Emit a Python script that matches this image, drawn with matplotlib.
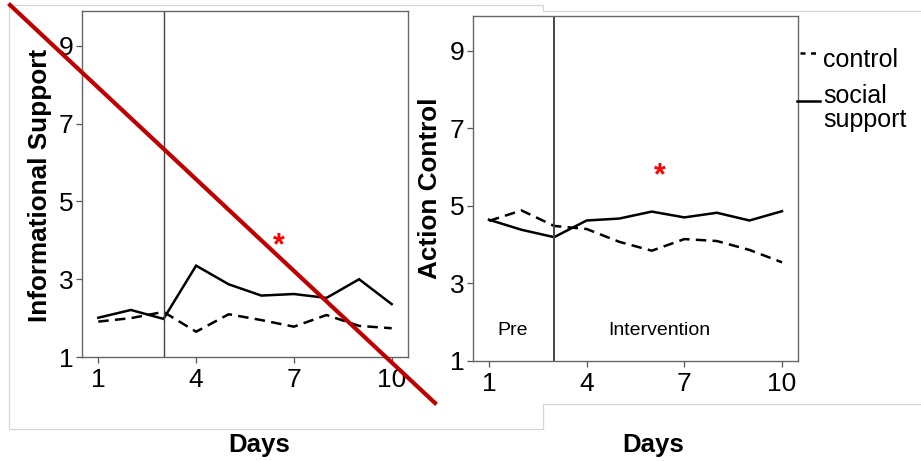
import matplotlib.pyplot as plt
from matplotlib.lines import Line2D

plt.rcParams['font.family'] = ['Liberation Sans', 'DejaVu Sans']

days = [1, 2, 3, 4, 5, 6, 7, 8, 9, 10]
info_social = [2.01, 2.21, 1.98, 3.35, 2.87, 2.58, 2.62, 2.52, 3.00, 2.36]
info_control = [1.91, 2.00, 2.16, 1.65, 2.10, 1.95, 1.78, 2.08, 1.80, 1.74]
action_social = [4.64, 4.38, 4.19, 4.62, 4.67, 4.85, 4.70, 4.82, 4.62, 4.86]
action_control = [4.61, 4.88, 4.48, 4.40, 4.07, 3.84, 4.14, 4.09, 3.86, 3.54]
xticks = [1, 4, 7, 10]
yticks = [1, 3, 5, 7, 9]
phase_split = 3

W, H = 921, 461
fig = plt.figure(figsize=(W / 100, H / 100), dpi=100)


def px(x, y):
    # pixel (top-left origin) -> figure fraction
    return x / W, 1 - y / H


# screenshot frame lines
frame_x = [543, 543, 9, 9, 543, 543, 921]
frame_y = [10.7, 5.5, 5.5, 429, 429, 404, 404]
fig.add_artist(Line2D([x / W for x in frame_x], [1 - y / H for y in frame_y],
                      color='#d6d6d6', lw=0.9, transform=fig.transFigure))
fig.add_artist(Line2D([543 / W, 1], [1 - 10.7 / H, 1 - 10.7 / H],
                      color='#d6d6d6', lw=0.9, transform=fig.transFigure))

ax1 = fig.add_axes([82 / W, 1 - 357 / H, 326 / W, 346 / H])
ax2 = fig.add_axes([472.7 / W, 1 - 360.7 / H, 325.6 / W, 344.7 / H])

dash = (0, (4.2, 2.5))
for ax, soc, ctl in [(ax1, info_social, info_control),
                     (ax2, action_social, action_control)]:
    ax.plot(days, soc, color='black', lw=1.8, solid_joinstyle='miter')
    ax.plot(days, ctl, color='black', lw=1.8, linestyle=dash)
    ax.axvline(phase_split, color='#444444', lw=1.0 if ax is ax1 else 1.4)
    ax.set_xlim(0.5, 10.5)
    ax.set_ylim(1, 9.9)
    ax.set_xticks(xticks)
    ax.set_yticks(yticks)
    ax.tick_params(labelsize=19, length=4, width=0.9, color='#555555', pad=2)
    ax.tick_params(axis='x', pad=4)
    for s in ax.spines.values():
        s.set_color('#666666')
        s.set_linewidth(1.0)

ax1.text(6.53, 3.84, '*', color='red', fontsize=22, fontweight='bold',
         ha='center', va='center')
ax2.text(6.25, 5.76, '*', color='red', fontsize=22, fontweight='bold',
         ha='center', va='center')
ax2.text(1.72, 1.79, 'Pre', fontsize=14, ha='center', va='center')
ax2.text(6.23, 1.79, 'Intervention', fontsize=14, ha='center', va='center')

fig.text(*px(40, 185), 'Informational Support', rotation=90, fontsize=18.8,
         fontweight='bold', ha='center', va='center')
fig.text(*px(430, 188), 'Action Control', rotation=90, fontsize=18.8,
         fontweight='bold', ha='center', va='center')
fig.text(*px(259, 445), 'Days', fontsize=18.5, fontweight='bold',
         ha='center', va='center')
fig.text(*px(653, 445), 'Days', fontsize=18.5, fontweight='bold',
         ha='center', va='center')

# legend
fig.add_artist(Line2D([800 / W, 816 / W], [1 - 53 / H] * 2, color='black',
                      lw=1.8, linestyle=(0, (2.0, 2.2)), transform=fig.transFigure))
fig.add_artist(Line2D([797 / W, 820 / W], [1 - 101 / H] * 2, color='black',
                      lw=1.8, transform=fig.transFigure))
fig.text(*px(823, 66.7), 'control', fontsize=18, va='baseline')
fig.text(*px(823, 103), 'social', fontsize=18, va='baseline')
fig.text(*px(823, 127), 'support', fontsize=18, va='baseline')

# red strike line
fig.add_artist(Line2D([10 / W, 435 / W], [1 - 5 / H, 1 - 403 / H],
                      color='#c00000', lw=3.0, transform=fig.transFigure,
                      zorder=10))

fig.savefig('out.png', dpi=100)
